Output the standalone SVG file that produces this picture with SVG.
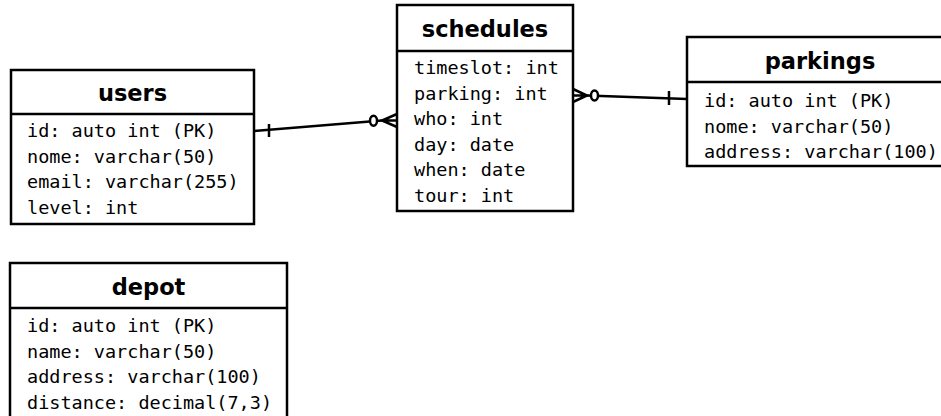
<svg xmlns="http://www.w3.org/2000/svg" width="941" height="416" viewBox="0 0 941 416">
<style>
.box{fill:#fff;stroke:#000;stroke-width:2.5}
.div{stroke:#000;stroke-width:2.5}
.title{font-family:"DejaVu Sans",sans-serif;font-weight:bold;font-size:22.5px;fill:#000;text-anchor:middle}
.field{font-family:"DejaVu Sans Mono",monospace;font-size:18.5px;fill:#000}
.ln{stroke:#000;stroke-width:2.5;fill:none}
.circ{stroke:#000;stroke-width:2.5;fill:#fff}
</style>
<rect width="941" height="416" fill="#fff"/>
<g id="connectors">
  <!-- users -> schedules -->
  <line class="ln" x1="254" y1="131" x2="382" y2="120.5"/>
  <line class="ln" x1="269" y1="124" x2="269" y2="137"/>
  <ellipse class="circ" cx="373.5" cy="120.7" rx="3.5" ry="5"/>
  <path class="ln" d="M397 114 L382 120.5 L397 127 M382 120.5 L397 120.5"/>
  <!-- schedules -> parkings -->
  <line class="ln" x1="587" y1="95.5" x2="687" y2="99"/>
  <line class="ln" x1="669" y1="91" x2="669" y2="105"/>
  <ellipse class="circ" cx="594.5" cy="95.5" rx="3.5" ry="5"/>
  <path class="ln" d="M573 89 L587 95.5 L573 102 M587 95.5 L573 95.5"/>
</g>
<g id="users">
  <rect class="box" x="11" y="70" width="243" height="154"/>
  <line class="div" x1="11" y1="114" x2="254" y2="114"/>
  <text class="title" x="132.5" y="101">users</text>
  <text class="field" x="27" y="137">id: auto int (PK)</text>
  <text class="field" x="27" y="162.5">nome: varchar(50)</text>
  <text class="field" x="27" y="188">email: varchar(255)</text>
  <text class="field" x="27" y="213.5">level: int</text>
</g>
<g id="schedules">
  <rect class="box" x="397" y="5" width="176" height="206"/>
  <line class="div" x1="397" y1="51" x2="573" y2="51"/>
  <text class="title" x="485" y="37">schedules</text>
  <text class="field" x="414" y="74">timeslot: int</text>
  <text class="field" x="414" y="99.5">parking: int</text>
  <text class="field" x="414" y="125">who: int</text>
  <text class="field" x="414" y="150.5">day: date</text>
  <text class="field" x="414" y="176">when: date</text>
  <text class="field" x="414" y="201.5">tour: int</text>
</g>
<g id="parkings">
  <rect class="box" x="687" y="37" width="266" height="129"/>
  <line class="div" x1="687" y1="82" x2="953" y2="82"/>
  <text class="title" x="820" y="69">parkings</text>
  <text class="field" x="704" y="107">id: auto int (PK)</text>
  <text class="field" x="704" y="132.5">nome: varchar(50)</text>
  <text class="field" x="704" y="158">address: varchar(100)</text>
</g>
<g id="depot">
  <rect class="box" x="10" y="263" width="277" height="170"/>
  <line class="div" x1="10" y1="308" x2="287" y2="308"/>
  <text class="title" x="148.5" y="295">depot</text>
  <text class="field" x="27" y="332">id: auto int (PK)</text>
  <text class="field" x="27" y="357.5">name: varchar(50)</text>
  <text class="field" x="27" y="383">address: varchar(100)</text>
  <text class="field" x="27" y="408.5">distance: decimal(7,3)</text>
</g>
</svg>
